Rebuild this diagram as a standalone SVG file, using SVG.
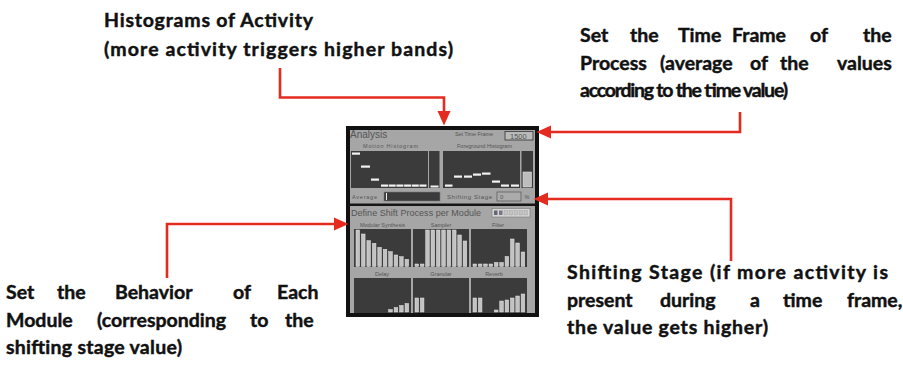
<svg xmlns="http://www.w3.org/2000/svg" width="903" height="373" viewBox="0 0 903 373">
<style>
.t{font-family:Lato,"Open Sans","Liberation Sans",sans-serif;font-weight:700;font-size:19.5px;fill:#111;stroke:#111;stroke-width:.45}
.p{font-family:"Liberation Sans",Arial,sans-serif;fill:#555}
.s{font-size:5.5px}
.dk{fill:#3b3b3b}
.d{fill:#f2f2f2}
.b{fill:#c2c2c2;stroke:#e6e6e6;stroke-width:.5}
.arr{fill:none;stroke:#e32b1f;stroke-width:2.6}
</style>
<defs>
<marker id="ah" markerUnits="userSpaceOnUse" markerWidth="15" markerHeight="14" refX="10" refY="7" orient="auto" viewBox="0 0 15 14">
<path d="M0,0.5 L14.5,7 L0,13.5 z" fill="#e32b1f"/>
</marker>
</defs>
<rect width="903" height="373" fill="#fff"/>

<g id="panel">
<rect x="348" y="128" width="189" height="187" fill="#a6a6a6" stroke="#111" stroke-width="4"/>
<text class="p" x="350" y="138" font-size="10" fill="#666">Analysis</text>
<text class="p s" x="455" y="136" textLength="38">Set Time Frame</text>
<rect x="505" y="131.5" width="28" height="8.5" fill="#bababa" stroke="#333" stroke-width=".8"/>
<text class="p" x="510" y="138.5" font-size="7.5" fill="#444">1500</text>
<text class="p s" x="363" y="147.5" textLength="55">Motion Histogram</text>
<text class="p s" x="457" y="147.5" textLength="55">Foreground Histogram</text>
<rect class="dk" x="351" y="151" width="77" height="37"/>
<rect class="dk" x="429" y="151" width="10.5" height="37"/>
<rect class="dk" x="443" y="151" width="77" height="37"/>
<rect class="dk" x="521.5" y="151" width="11.5" height="37"/>
<rect class="d" x="352" y="152.5" width="8" height="2.2"/>
<rect class="d" x="361" y="165.5" width="9" height="2.2"/>
<rect class="d" x="371" y="178.5" width="8" height="2.2"/>
<rect class="d" x="381" y="184.5" width="7" height="2.2"/>
<rect class="d" x="388.7" y="184.5" width="7" height="2.2"/>
<rect class="d" x="396.4" y="184.5" width="7" height="2.2"/>
<rect class="d" x="404.1" y="184.5" width="7" height="2.2"/>
<rect class="d" x="411.8" y="184.5" width="7" height="2.2"/>
<rect class="d" x="419.5" y="184.5" width="7" height="2.2"/>
<rect class="d" x="430.5" y="185.5" width="8" height="2"/>
<rect class="d" x="445" y="184.5" width="7.5" height="2.2"/>
<rect class="d" x="454" y="175.5" width="8" height="2.2"/>
<rect class="d" x="464" y="175.5" width="8" height="2.2"/>
<rect class="d" x="473" y="173.5" width="8" height="2.2"/>
<rect class="d" x="482" y="172.5" width="8.5" height="2.2"/>
<rect class="d" x="492" y="180.5" width="8" height="2.2"/>
<rect class="d" x="501" y="184.5" width="8" height="2.2"/>
<rect class="d" x="511" y="184.5" width="8" height="2.2"/>
<rect x="523" y="172" width="8.5" height="15" fill="#bdbdbd" stroke="#e0e0e0" stroke-width=".6"/>
<text class="p s" x="352" y="198.5" textLength="25">Average</text>
<rect x="384" y="192" width="56" height="9" fill="#3b3b3b" stroke="#777" stroke-width=".6"/>
<rect x="386" y="193" width="1" height="7" fill="#eee"/>
<text class="p" x="447" y="198.5" font-size="6" textLength="45">Shifting Stage</text>
<rect x="497" y="192" width="24" height="9" fill="#ababab" stroke="#555" stroke-width=".7"/>
<text class="p" x="500" y="199" font-size="6">0</text>
<text class="p s" x="524.5" y="199">%</text>
<rect x="348" y="203.5" width="189" height="2.5" fill="#161616"/>
<text class="p" x="351" y="216" font-size="9" textLength="130">Define Shift Process per Module</text>
<rect x="492" y="208.5" width="38" height="8.5" fill="#d6d6d6" stroke="#777" stroke-width=".6"/>
<rect x="494" y="210.5" width="3.5" height="4.5" fill="#667"/>
<rect x="499" y="210.5" width="3.5" height="4.5" fill="#778"/>
<rect x="504" y="210.5" width="3.5" height="4.5" fill="#c4c4c4" stroke="#999" stroke-width=".4"/>
<rect x="509" y="210.5" width="3.5" height="4.5" fill="#c4c4c4" stroke="#999" stroke-width=".4"/>
<rect x="514" y="210.5" width="3.5" height="4.5" fill="#c4c4c4" stroke="#999" stroke-width=".4"/>
<rect x="519" y="210.5" width="3.5" height="4.5" fill="#c4c4c4" stroke="#999" stroke-width=".4"/>
<rect x="524" y="210.5" width="3.5" height="4.5" fill="#c4c4c4" stroke="#999" stroke-width=".4"/>
<g class="p s" text-anchor="middle">
<text x="382.5" y="226.5">Modular Synthesis</text>
<text x="441" y="226.5">Sampler</text>
<text x="498" y="226.5">Filter</text>
<text x="382" y="275.5">Delay</text>
<text x="441" y="275.5">Granular</text>
<text x="494" y="275.5">Reverb</text>
</g>
<rect class="dk" x="354" y="229" width="57" height="38"/>
<rect class="dk" x="413" y="229" width="56" height="38"/>
<rect class="dk" x="471" y="229" width="56" height="38"/>
<rect class="dk" x="354" y="278" width="57" height="35"/>
<rect class="dk" x="413" y="278" width="56" height="35"/>
<rect class="dk" x="471" y="278" width="56" height="35"/>
<!-- Modular Synthesis -->
<rect class="b" x="356" y="230" width="3.6" height="36.5"/>
<rect class="b" x="361.45" y="234" width="3.6" height="32.5"/>
<rect class="b" x="366.9" y="240.7" width="3.6" height="25.8"/>
<rect class="b" x="372.35" y="243.3" width="3.6" height="23.2"/>
<rect class="b" x="377.8" y="247.3" width="3.6" height="19.2"/>
<rect class="b" x="383.25" y="249.3" width="3.6" height="17.2"/>
<rect class="b" x="388.7" y="251.7" width="3.6" height="14.8"/>
<rect class="b" x="394.15" y="255" width="3.6" height="11.5"/>
<rect class="b" x="399.6" y="256.7" width="3.6" height="9.8"/>
<rect class="b" x="405.05" y="259.3" width="3.6" height="7.2"/>
<!-- Sampler -->
<rect class="b" x="415" y="264" width="3.6" height="2.5"/>
<rect class="b" x="420.35" y="264" width="3.6" height="2.5"/>
<rect class="b" x="425.7" y="230" width="3.6" height="36.5"/>
<rect class="b" x="431.05" y="230" width="3.6" height="36.5"/>
<rect class="b" x="436.4" y="230" width="3.6" height="36.5"/>
<rect class="b" x="441.75" y="230" width="3.6" height="36.5"/>
<rect class="b" x="447.1" y="230" width="3.6" height="36.5"/>
<rect class="b" x="452.45" y="230" width="3.6" height="36.5"/>
<rect class="b" x="457.8" y="235" width="3.6" height="31.5"/>
<rect class="b" x="463.15" y="241" width="3.6" height="25.5"/>
<!-- Filter -->
<rect class="b" x="473" y="264" width="3.6" height="2.5"/>
<rect class="b" x="478.35" y="264" width="3.6" height="2.5"/>
<rect class="b" x="483.7" y="264" width="3.6" height="2.5"/>
<rect class="b" x="489.05" y="264" width="3.6" height="2.5"/>
<rect class="b" x="494.4" y="262.5" width="3.6" height="4"/>
<rect class="b" x="499.75" y="262.5" width="3.6" height="4"/>
<rect class="b" x="505.1" y="256.5" width="3.6" height="10"/>
<rect class="b" x="510.45" y="239" width="3.6" height="27.5"/>
<rect class="b" x="515.8" y="243" width="3.6" height="23.5"/>
<rect class="b" x="521.15" y="252" width="3.6" height="14.5"/>
<!-- Delay -->
<rect class="b" x="388.7" y="309.5" width="3.6" height="2.5"/>
<rect class="b" x="394.15" y="307.5" width="3.6" height="4.5"/>
<rect class="b" x="399.6" y="305.5" width="3.6" height="6.5"/>
<rect class="b" x="405.05" y="303.5" width="3.6" height="8.5"/>
<!-- Granular -->
<rect class="b" x="415" y="298" width="3.6" height="14"/>
<rect class="b" x="420.35" y="298" width="3.6" height="14"/>
<!-- Reverb -->
<rect class="b" x="473" y="298" width="3.6" height="14"/>
<rect class="b" x="478.35" y="298" width="3.6" height="14"/>
<rect class="b" x="494.4" y="310" width="3.6" height="2"/>
<rect class="b" x="499.75" y="301" width="3.6" height="11"/>
<rect class="b" x="505.1" y="300" width="3.6" height="12"/>
<rect class="b" x="510.45" y="298" width="3.6" height="14"/>
<rect class="b" x="515.8" y="296" width="3.6" height="16"/>
<rect class="b" x="521.15" y="294" width="3.6" height="18"/>
</g>

<g id="label-histograms">
<text class="t" x="104" y="27" textLength="209">Histograms of Activity</text>
<text class="t" x="104" y="56" textLength="349">(more activity triggers higher bands)</text>
</g>

<g id="label-timeframe" class="t">
<text y="42"><tspan x="580">Set</tspan><tspan x="630">the</tspan><tspan x="678">Time</tspan><tspan x="732">Frame</tspan><tspan x="810">of</tspan><tspan x="863">the</tspan></text>
<text y="70"><tspan x="580">Process</tspan><tspan x="660">(average</tspan><tspan x="750">of</tspan><tspan x="780">the</tspan><tspan x="837">values</tspan></text>
<text x="580" y="97" textLength="208">according to the time value)</text>
</g>

<g id="label-behavior" class="t">
<text y="299"><tspan x="6">Set</tspan><tspan x="57">the</tspan><tspan x="115">Behavior</tspan><tspan x="233">of</tspan><tspan x="277">Each</tspan></text>
<text y="327"><tspan x="6">Module</tspan><tspan x="97">(corresponding</tspan><tspan x="250">to</tspan><tspan x="285">the</tspan></text>
<text x="6" y="354" textLength="176">shifting stage value)</text>
</g>

<g id="label-shifting" class="t">
<text x="567" y="279" textLength="321">Shifting Stage (if more activity is</text>
<text y="307"><tspan x="567">present</tspan><tspan x="660">during</tspan><tspan x="750">a</tspan><tspan x="783">time</tspan><tspan x="847">frame,</tspan></text>
<text x="567" y="334" textLength="201">the value gets higher)</text>
</g>

<g id="connectors">
<path class="arr" d="M280,68 V97.5 H444 V121" marker-end="url(#ah)"/>
<path class="arr" d="M740,112 V132 H541" marker-end="url(#ah)"/>
<path class="arr" d="M731,261 V199 H538" marker-end="url(#ah)"/>
<path class="arr" d="M167,278 V224 H344" marker-end="url(#ah)"/>
</g>
</svg>
